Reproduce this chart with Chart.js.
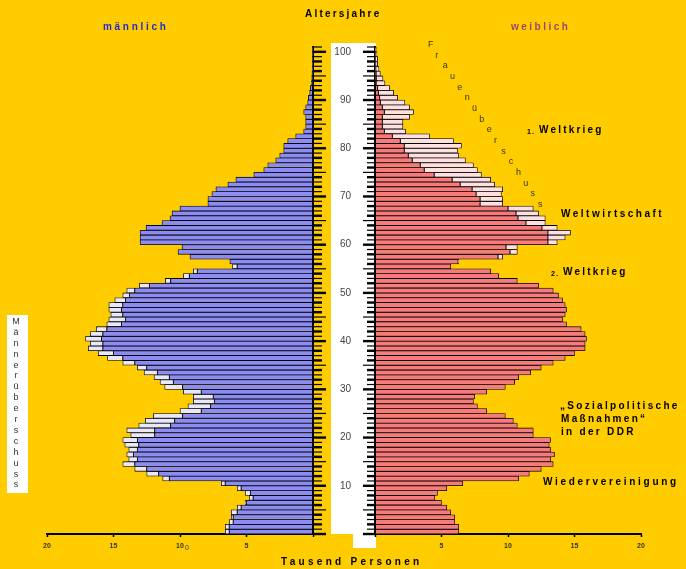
<!DOCTYPE html>
<html lang="de">
<head>
<meta charset="UTF-8" />
<title>Altersaufbau</title>
<script src="https://cdn.jsdelivr.net/npm/chart.js"></script>
<style>
  body { margin: 0; width: 686px; height: 569px; background: #ffcc00; position: relative; overflow: hidden;
         font-family: "Liberation Sans", Arial, sans-serif; }
  .box { position: absolute; }
  .t { position: absolute; font-weight: bold; white-space: nowrap; line-height: 1; }
  .senk { writing-mode: vertical-lr; text-orientation: upright; }
</style>
</head>
<body>
<div class="box" style="left:331px;top:43px;width:45px;height:491px;background:#fff"></div>
<div class="box" style="left:353px;top:533px;width:23px;height:15px;background:#fff"></div>
<div class="box" style="left:7px;top:315px;width:21px;height:178px;background:#fff"></div>

<div class="box" style="left:0;top:0;width:331px;height:569px"><canvas id="links"></canvas></div>
<div class="box" style="left:331px;top:0;width:355px;height:569px"><canvas id="rechts"></canvas></div>

<div class="t" style="left:305px;top:9px;font-size:10px;letter-spacing:2.2px">Altersjahre</div>
<div class="t" style="left:103px;top:22px;font-size:10px;letter-spacing:2.7px;color:#2828d8">männlich</div>
<div class="t" style="left:511px;top:22px;font-size:10px;letter-spacing:2.5px;color:#a0466e">weiblich</div>
<div class="t" style="left:281px;top:557px;font-size:10px;letter-spacing:3.3px">Tausend Personen</div>

<div class="t" style="left:527px;top:128px;font-size:7px;letter-spacing:1px">1.</div>
<div class="t" style="left:539px;top:125px;font-size:10px;letter-spacing:2.2px">Weltkrieg</div>
<div class="t" style="left:561px;top:209px;font-size:10px;letter-spacing:2.5px">Weltwirtschaft</div>
<div class="t" style="left:551px;top:270px;font-size:7px;letter-spacing:1px">2.</div>
<div class="t" style="left:563px;top:267px;font-size:10px;letter-spacing:2.2px">Weltkrieg</div>
<div class="t" style="left:560px;top:401px;font-size:10px;letter-spacing:2.3px">„Sozialpolitische</div>
<div class="t" style="left:561px;top:414px;font-size:10px;letter-spacing:2.3px">Maßnahmen“</div>
<div class="t" style="left:561px;top:427px;font-size:10px;letter-spacing:2.3px">in der DDR</div>
<div class="t" style="left:543px;top:477px;font-size:10px;letter-spacing:2.7px">Wiedervereinigung</div>
<div class="t" style="left:185px;top:544px;font-size:7px;font-weight:normal;color:#333">0</div>

<div class="t senk" style="left:11px;top:316px;font-size:9px;font-weight:normal;color:#333;letter-spacing:0.9px">Männerüberschuss</div>
<div id="frauen"></div>

<script>
  // Altersjahre 0 .. 100, Tausend Personen
  const ages = Array.from({ length: 101 }, (_, i) => i);

  const male = [
    6.6, 6.6, 6.3, 6.15, 6.15, 5.7, 5.1, 4.8, 5.1, 5.7,
    6.9, 11.3, 12.5, 13.4, 14.3, 13.85, 14.0, 13.85, 14.15, 14.3,
    13.7, 14.0, 13.1, 12.6, 12.0, 10.0, 9.4, 9.0, 9.0, 9.75,
    11.15, 11.5, 11.95, 12.7, 13.2, 14.3, 15.45, 16.15, 16.9, 16.75,
    17.1, 16.75, 16.3, 15.5, 15.35, 15.2, 15.35, 15.35, 14.9, 14.3,
    14.0, 13.05, 11.1, 9.75, 9.0, 6.05, 6.25, 9.25, 10.15, 9.85,
    13.0, 13.0, 13.0, 12.55, 11.35, 10.75, 10.6, 10.0, 7.9, 7.9,
    7.6, 7.3, 6.4, 5.8, 4.45, 3.7, 3.4, 2.8, 2.5, 2.2,
    2.2, 1.9, 1.3, 0.7, 0.55, 0.55, 0.55, 0.7, 0.55, 0.4,
    0.35, 0.25, 0.2, 0.12, 0.1, 0.08, 0.06, 0.05, 0.04, 0.03,
    0.03
  ];

  const female = [
    6.3, 6.3, 6.0, 6.0, 5.7, 5.4, 5.0, 4.5, 4.7, 5.4,
    6.6, 10.8, 11.6, 12.5, 13.4, 13.2, 13.5, 13.2, 13.1, 13.2,
    11.9, 11.9, 10.7, 10.4, 9.8, 8.4, 7.7, 7.4, 7.5, 8.4,
    9.8, 10.5, 10.8, 11.7, 12.5, 13.4, 14.3, 15.0, 15.8, 15.8,
    15.9, 15.8, 15.5, 14.4, 14.1, 14.3, 14.4, 14.3, 14.1, 13.8,
    13.4, 12.3, 10.7, 9.3, 8.7, 5.7, 6.3, 9.6, 10.7, 10.7,
    13.7, 14.3, 14.7, 13.7, 12.8, 12.8, 12.3, 11.9, 9.6, 9.6,
    9.5, 9.6, 9.0, 8.7, 8.0, 7.7, 7.4, 6.8, 6.3, 6.2,
    6.5, 5.9, 4.1, 2.3, 2.1, 2.1, 2.6, 2.9, 2.6, 2.25,
    1.7, 1.4, 1.1, 0.75, 0.6, 0.4, 0.3, 0.2, 0.2, 0.15,
    0.1
  ];

  const xTickValues = [0, 5, 10, 15, 20];
  const ageTickValues = [10, 20, 30, 40, 50, 60, 70, 80, 90, 100];

  // Frauenüberschuss, schräg gesetzt
  const frauenText = "Frauenüberschuss";
  const fr = document.getElementById("frauen");
  [...frauenText].forEach((ch, i) => {
    const d = document.createElement("div");
    d.className = "t";
    d.textContent = ch;
    d.style.cssText = `left:${428 + i * 7.33}px;top:${40 + i * 10.67}px;font-size:9px;font-weight:normal;color:#3a3300`;
    fr.appendChild(d);
  });

  const common = male.map((m, i) => Math.min(m, female[i]));
  const maleOver = male.map((m, i) => Math.max(0, m - female[i]));
  const femaleOver = female.map((f, i) => Math.max(0, f - male[i]));
  const pts = (arr) => ages.map((a) => ({ x: arr[a], y: a + 0.5 }));

  Chart.defaults.font.family = "'Liberation Sans', Arial, sans-serif";

  const jahresTicks = {
    id: "jahresTicks",
    afterDraw(chart, args, opts) {
      const ys = chart.scales.y, a = chart.chartArea, ctx = chart.ctx;
      ctx.save();
      ctx.strokeStyle = "#000";
      for (let v = 0; v <= 101; v++) {
        const py = ys.getPixelForValue(v);
        const len = v % 5 === 0 ? opts.long : opts.short;
        ctx.lineWidth = v % 2 === 0 ? 2.4 : 1.2;
        ctx.beginPath();
        if (opts.side === "right") {
          ctx.moveTo(a.right + 1, py);
          ctx.lineTo(a.right + 1 + len, py);
        } else {
          ctx.moveTo(a.left - len, py);
          ctx.lineTo(a.left, py);
        }
        ctx.stroke();
      }
      ctx.restore();
    },
  };

  const barStyle = { borderColor: "#000", borderWidth: 0.8, borderSkipped: false, barPercentage: 1, categoryPercentage: 1 };

  const xAxis = (reverse) => ({
    type: "linear", min: 0, max: 20, reverse: reverse, stacked: true, position: "bottom",
    afterBuildTicks: (s) => { s.ticks = xTickValues.map((v) => ({ value: v })); },
    afterFit: (s) => { s.height = 35; },
    ticks: { callback: (v) => (v === 0 ? "" : v), font: { size: 7, weight: "bold" }, color: "#333", padding: 5 },
    grid: { drawOnChartArea: false, tickLength: 3, color: "#000", tickWidth: 1.5 },
    border: { color: "#000", width: 2 },
  });

  const yAxis = (pos, width, showLabels) => ({
    type: "linear", min: 0, max: 101, stacked: true, position: pos, offset: false,
    afterBuildTicks: (s) => { s.ticks = ageTickValues.map((v) => ({ value: v })); },
    afterFit: (s) => { s.width = width; },
    ticks: { display: showLabels, font: { size: 10 }, color: "#444", padding: 24 },
    grid: { display: false, drawTicks: false, offset: false },
    border: { color: "#000", width: 2 },
  });

  new Chart(document.getElementById("links"), {
    type: "bar",
    data: {
      datasets: [
        { label: "männlich", data: pts(common), backgroundColor: "#8c8cf2", ...barStyle },
        { label: "Männerüberschuss", data: pts(maleOver), backgroundColor: "#e8e8f8", ...barStyle },
      ],
    },
    options: {
      indexAxis: "y", responsive: true, maintainAspectRatio: false, animation: false,
      layout: { padding: { left: 47, top: 47, right: 0, bottom: 0 } },
      scales: { x: xAxis(true), y: yAxis("right", 18, false) },
      plugins: { legend: { display: false }, tooltip: { enabled: false }, jahresTicks: { side: "right", short: 8, long: 12 } },
    },
    plugins: [jahresTicks],
  });

  new Chart(document.getElementById("rechts"), {
    type: "bar",
    data: {
      datasets: [
        { label: "weiblich", data: pts(common), backgroundColor: "#f77b7b", ...barStyle },
        { label: "Frauenüberschuss", data: pts(femaleOver), backgroundColor: "#ffe0e0", ...barStyle },
      ],
    },
    options: {
      indexAxis: "y", responsive: true, maintainAspectRatio: false, animation: false,
      layout: { padding: { left: 0, top: 47, right: 45, bottom: 0 } },
      scales: { x: xAxis(false), y: yAxis("left", 44, true) },
      plugins: { legend: { display: false }, tooltip: { enabled: false }, jahresTicks: { side: "left", short: 8, long: 12 } },
    },
    plugins: [jahresTicks],
  });
</script>
</body>
</html>
